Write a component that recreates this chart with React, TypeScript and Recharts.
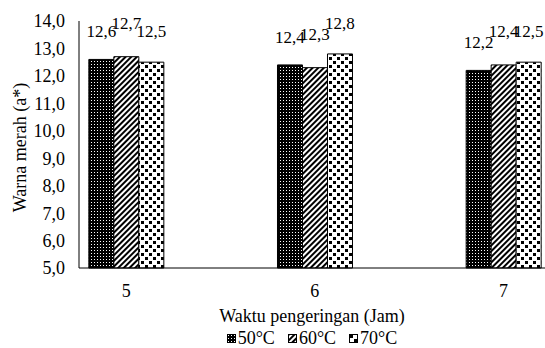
import { BarChart, Bar, XAxis, YAxis, Legend, LabelList } from "recharts";

const waktu = [5, 6, 7];
const suhu50 = [12.6, 12.4, 12.2];
const suhu60 = [12.7, 12.3, 12.4];
const suhu70 = [12.5, 12.8, 12.5];
const yTicks = [5, 6, 7, 8, 9, 10, 11, 12, 13, 14];

const FONT = '"Liberation Serif", "Times New Roman", serif';

const series = [
  { key: "s50", name: "50°C", pattern: "p50", labelOffset: 22 },
  { key: "s60", name: "60°C", pattern: "p60", labelOffset: 28 },
  { key: "s70", name: "70°C", pattern: "p70", labelOffset: 25 },
];

const data = waktu.map((w, i) => ({ waktu: w, s50: suhu50[i], s60: suhu60[i], s70: suhu70[i] }));

const fmt = (v: number) => v.toFixed(1).replace(".", ",");

function LegendContent() {
  return (
    <div style={{ display: "flex", justifyContent: "center", gap: 13, fontSize: 18, lineHeight: "20px", fontFamily: FONT, color: "#000" }}>
      {series.map((s) => (
        <span key={s.key} style={{ display: "flex", alignItems: "center" }}>
          <svg width={9} height={9}>
            <rect x={0.5} y={0.5} width={8} height={8} fill={`url(#${s.pattern})`} stroke="#000" strokeWidth={1} />
          </svg>
          <span style={{ marginLeft: 2 }}>{s.name}</span>
        </span>
      ))}
    </div>
  );
}

export default function App() {
  return (
    <div style={{ position: "absolute", left: 0, top: 0, background: "#fff", fontFamily: FONT }}>
      <style>{`.recharts-wrapper text, .recharts-wrapper tspan { font-family: ${FONT}; }`}</style>
      <BarChart
        width={545}
        height={348}
        data={data}
        margin={{ top: 21, right: 0, bottom: 0, left: 0 }}
        barGap={0}
        barSize={25}
      >
        <defs>
          <pattern id="p50" patternUnits="userSpaceOnUse" width={3} height={3}>
            <rect width={3} height={3} fill="#000" />
            <rect x={1} y={1} width={1} height={1} fill="#fff" />
          </pattern>
          <pattern id="p60" patternUnits="userSpaceOnUse" width={4} height={4} patternTransform="rotate(45)">
            <rect width={4} height={4} fill="#fff" />
            <rect width={2} height={4} fill="#000" />
          </pattern>
          <pattern id="p70" patternUnits="userSpaceOnUse" width={8} height={8}>
            <rect width={8} height={8} fill="#fff" />
            <rect x={1} y={1} width={3} height={3} fill="#000" />
            <rect x={5} y={5} width={3} height={3} fill="#000" />
          </pattern>
        </defs>
        <XAxis
          dataKey="waktu"
          type="number"
          domain={[4.75, 7.22]}
          ticks={waktu}
          allowDataOverflow
          tickLine={false}
          tickMargin={10}
          height={60}
          axisLine={{ stroke: "#000", strokeWidth: 1 }}
          tick={{ fontSize: 18, fill: "#000" }}
          label={{ value: "Waktu pengeringan (Jam)", position: "insideBottom", offset: 6, fontSize: 18, fill: "#000" }}
        />
        <YAxis
          domain={[5, 14]}
          ticks={yTicks}
          width={79}
          tickLine={false}
          tickMargin={8}
          tickFormatter={fmt}
          axisLine={{ stroke: "#000", strokeWidth: 1 }}
          tick={{ fontSize: 18, fill: "#000" }}
          label={(props: any) => {
            const vb = props.viewBox || { y: 21, height: 247 };
            const cy = vb.y + vb.height / 2 + 3;
            return (
              <text x={20} y={cy} transform={`rotate(-90 20 ${cy})`} textAnchor="middle" dominantBaseline="central" fontSize={18} fill="#000">
                Warna merah (a*)
              </text>
            );
          }}
        />
        <Legend verticalAlign="bottom" content={<LegendContent />} wrapperStyle={{ left: 79, width: 466, bottom: 0 }} />
        {series.map((s) => (
          <Bar key={s.key} dataKey={s.key} name={s.name} fill={`url(#${s.pattern})`} stroke="#000" strokeWidth={1} isAnimationActive={false}>
            <LabelList dataKey={s.key} position="top" offset={s.labelOffset} formatter={(v: any) => fmt(Number(v))} fontSize={17} fill="#000" />
          </Bar>
        ))}
      </BarChart>
    </div>
  );
}
